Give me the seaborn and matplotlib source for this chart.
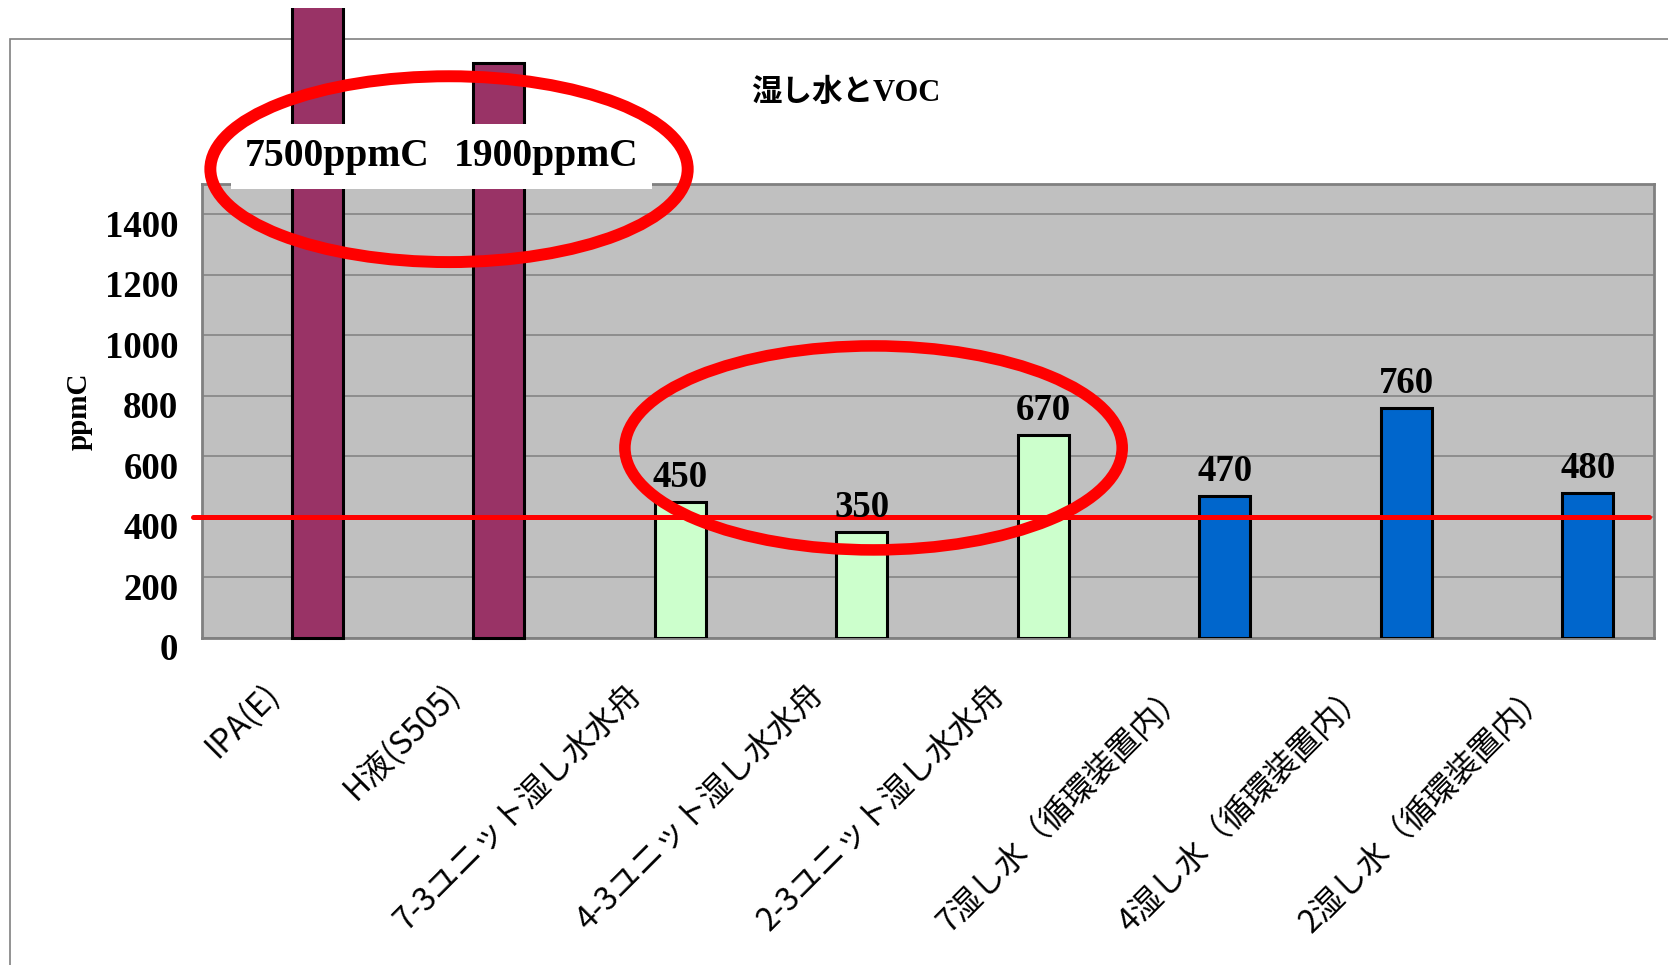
import numpy as np
import pandas as pd
import matplotlib
matplotlib.use("Agg")
import matplotlib.pyplot as plt
import seaborn as sns
from matplotlib.patches import Ellipse, Rectangle
from matplotlib.transforms import ScaledTranslation, Bbox, TransformedBbox

# --- data -------------------------------------------------------------
categories = [
    "IPA(E)",
    "H液(S505)",
    "7-3ユニット湿し水水舟",
    "4-3ユニット湿し水水舟",
    "2-3ユニット湿し水水舟",
    "7湿し水（循環装置内）",
    "4湿し水（循環装置内）",
    "2湿し水（循環装置内）",
]
groups = ["溶剤", "溶剤", "水舟", "水舟", "水舟", "循環", "循環", "循環"]
values = [7500, 1900, 450, 350, 670, 470, 760, 480]
threshold = 400
yticks = [0, 200, 400, 600, 800, 1000, 1200, 1400]
title = "湿し水とVOC"
ylabel = "ppmC"

palette = {"溶剤": "#993366", "水舟": "#CCFFCC", "循環": "#0066CC"}

# --- figure -----------------------------------------------------------
sns.set_style("white")
plt.rcParams["font.family"] = ["Noto Sans CJK JP", "DejaVu Sans"]
plt.rcParams["text.color"] = "black"
plt.rcParams["axes.labelcolor"] = "black"
plt.rcParams["xtick.color"] = "black"
plt.rcParams["ytick.color"] = "black"

W, H = 1668, 965
fig = plt.figure(figsize=(W / 100, H / 100), dpi=100)
ax = fig.add_axes([202 / W, 1 - 638 / H, (1654 - 202) / W, (638 - 184) / H])

df = pd.DataFrame({"category": categories, "ppmC": values, "group": groups})
sns.barplot(data=df, x="category", y="ppmC", hue="group", palette=palette,
            dodge=False, width=0.28, edgecolor="black", linewidth=2.2,
            legend=False, saturation=1, ax=ax, zorder=3)

ax.set_xlim(-0.5, len(categories) - 0.5)
ax.set_ylim(0, 1500)

# bars sit slightly right of the category centre; tall bars run off the top
shift = 0.135
top_clip = TransformedBbox(Bbox([[0, 0], [1, 1 - 8 / H]]), fig.transFigure)
bars = [p for p in ax.patches if p.get_height() > 0]
for p in bars:
    p.set_x(p.get_x() + shift)
    if p.get_height() > 1500:
        p.set_clip_box(top_clip)

# plot area styling
ax.set_facecolor("#C0C0C0")
ax.yaxis.grid(True, color="#808080", lw=1.1)
ax.xaxis.grid(False)
ax.set_axisbelow(True)
for s in ax.spines.values():
    s.set_color("#808080")
    s.set_linewidth(2)

serif_bold = dict(family="Liberation Serif", weight="bold")

ax.set_yticks(yticks)
ax.set_yticklabels([str(v) for v in yticks], fontsize=26.5, **serif_bold)
ax.tick_params(axis="y", length=0, pad=17)
down = ScaledTranslation(0, -9 / 100, fig.dpi_scale_trans)
for lbl in ax.get_yticklabels():
    lbl.set_transform(lbl.get_transform() + down)

ax.set_xticks(range(len(categories)))
ax.set_xticklabels(categories, fontsize=23, rotation=45, ha="right",
                   va="center", rotation_mode="anchor")
ax.tick_params(axis="x", which="major", length=0, pad=46)
nudge_x = ScaledTranslation(-19 / 100, 13 / 100, fig.dpi_scale_trans)
for lbl in ax.get_xticklabels():
    lbl.set_transform(lbl.get_transform() + nudge_x)
ax.set_xticks(np.arange(-0.5, len(categories), 1), minor=True)
ax.tick_params(axis="x", which="minor", direction="in", length=6,
               color="#808080", width=1)
ax.set_xlabel("")

ax.set_ylabel(ylabel, fontsize=21, **serif_bold)
ax.yaxis.set_label_coords(-0.075, 0.5)

# reference level
ax.axhline(threshold, xmin=-0.006, xmax=0.9966, color="red", lw=3.6,
           clip_on=False, zorder=4)

# value labels
label_nudge = [0.11, 0.26]
k = 0
for p in bars:
    h = p.get_height()
    cx = p.get_x() + p.get_width() / 2
    if h <= 1500:
        ax.annotate(f"{h:.0f}", (cx, h), xytext=(0, 17.5),
                    textcoords="offset points", ha="center", va="center",
                    fontsize=26.5, zorder=6, **serif_bold)
    else:
        ax.text(cx + label_nudge[k], 1590, f"{h:.0f}ppmC", ha="center",
                va="center", fontsize=28.5, zorder=7, clip_on=False,
                bbox=dict(boxstyle="square,pad=0.35", fc="white", ec="none"),
                **serif_bold)
        k += 1

# highlight rings
ax.add_patch(Ellipse((0.861, 1549), 2.63, 614, fill=False, ec="red",
                     lw=8.6, clip_on=False, zorder=10))
ax.add_patch(Ellipse((3.20, 628), 2.74, 674, fill=False, ec="red",
                     lw=8.3, clip_on=False, zorder=10))

# chart border and title
fig.add_artist(Rectangle((10 / W, -0.5), 2, 1 - 39 / H + 0.5,
                         transform=fig.transFigure, fill=False,
                         edgecolor="#808080", lw=1.2, zorder=0))
fig.text(846 / W, 1 - 93 / H, title, ha="center", va="center", fontsize=22,
         fontweight="bold", family=["Liberation Serif", "Noto Sans CJK JP"])

fig.savefig("out.png", dpi=100)
